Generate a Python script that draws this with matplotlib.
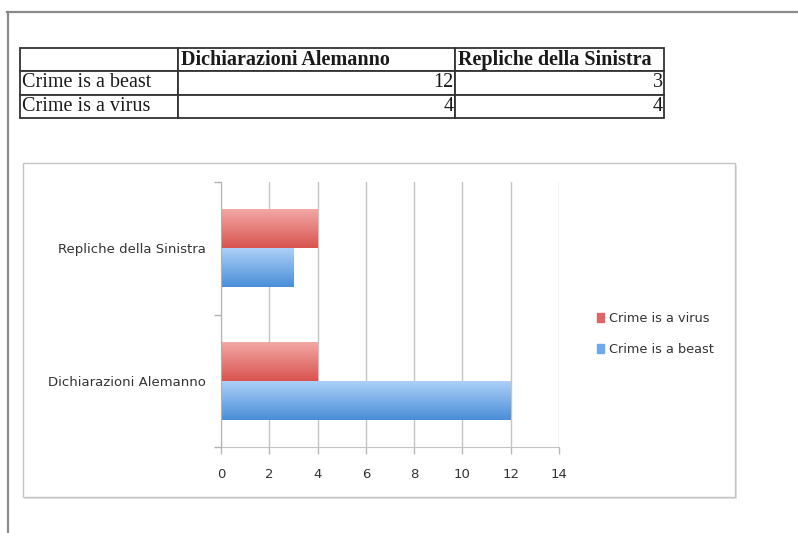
import matplotlib.pyplot as plt
import numpy as np
from matplotlib.patches import Rectangle
from matplotlib.lines import Line2D
from matplotlib.colors import LinearSegmentedColormap

# Data
categories = ['Dichiarazioni Alemanno', 'Repliche della Sinistra']
series = ['Crime is a beast', 'Crime is a virus']
beast = [12, 3]
virus = [4, 4]
x_ticks = [0, 2, 4, 6, 8, 10, 12, 14]

W, H = 798, 533
fig = plt.figure(figsize=(W / 100, H / 100), dpi=100)
fig.patch.set_facecolor('white')


def fx(px):
    return px / W


def fy(py):
    return 1 - py / H


# page border (screenshot frame)
fig.add_artist(Line2D([fx(7), 1], [fy(12), fy(12)], color='#8a8a8a', lw=1.6))
fig.add_artist(Line2D([fx(8), fx(8)], [fy(12), 0], color='#8a8a8a', lw=1.6))

# ---- data table ----
tab_ax = fig.add_axes([fx(20), fy(118), fx(664) - fx(20), fy(48) - fy(118)])
tab_ax.axis('off')
tab_ax.set_zorder(2)
cell_text = [['', categories[0], categories[1]],
             [series[0], str(beast[0]), str(beast[1])],
             [series[1], str(virus[0]), str(virus[1])]]
col_w = np.array([158, 277, 209]) / 644
tbl = tab_ax.table(cellText=cell_text, colWidths=col_w, bbox=[0, 0, 1, 1])
tbl.auto_set_font_size(False)
for (r, c), cell in tbl.get_celld().items():
    cell.set_edgecolor('#333333')
    cell.set_linewidth(1.3)
    txt = cell.get_text()
    txt.set_fontfamily('Liberation Serif')
    txt.set_fontsize(14.5)
    txt.set_color('#1a1a1a')
    cell.PAD = 0.012
    if r == 0:
        txt.set_fontweight('bold')
        cell.set_text_props(ha='left')
    elif c == 0:
        cell.set_text_props(ha='left')
    else:
        cell.set_text_props(ha='right')
        cell.PAD = 0.006

# ---- chart frame ----
fig.add_artist(Rectangle((fx(24), fy(499)), fx(737) - fx(24), fy(165) - fy(499),
                         transform=fig.transFigure, facecolor='#e2e2e2', edgecolor='none', zorder=0))
fig.add_artist(Rectangle((fx(23), fy(497)), fx(735) - fx(23), fy(163) - fy(497),
                         transform=fig.transFigure, facecolor='white', edgecolor='#c4c4c4',
                         lw=1.0, zorder=0.5))

# ---- bar chart ----
ax = fig.add_axes([fx(221), fy(447), fx(559) - fx(221), fy(182) - fy(447)])
ax.set_zorder(2)
ax.set_facecolor('none')
ypos = np.arange(len(categories))
h = 0.294
b_beast = ax.barh(ypos - h / 2, beast, height=h, color='#6fa8ec', label=series[0], zorder=3)
b_virus = ax.barh(ypos + h / 2, virus, height=h, color='#e06666', label=series[1], zorder=3)

# gradient fill on bars
red_cm = LinearSegmentedColormap.from_list('r', ['#d9534f', '#f2a8a4'])
blue_cm = LinearSegmentedColormap.from_list('b', ['#4a8ed8', '#acd0f7'])
grad = np.linspace(0, 1, 64).reshape(-1, 1)
for bars, cm in [(b_beast, blue_cm), (b_virus, red_cm)]:
    for p in bars:
        x0, y0, w, hh = p.get_x(), p.get_y(), p.get_width(), p.get_height()
        ax.imshow(grad, cmap=cm, aspect='auto', origin='lower',
                  extent=[x0, x0 + w, y0, y0 + hh], zorder=4)
        p.set_alpha(0)
ax.set_xlim(0, 14)
ax.set_ylim(-0.5, 1.5)

ax.set_xticks(x_ticks)
ax.set_xticklabels([str(t) for t in x_ticks], fontsize=9.5, color='#333333')
ax.xaxis.grid(True, color='#c4c4c4', lw=1.0, zorder=0)
ax.tick_params(axis='x', length=5, width=1, color='#b8b8b8', pad=10, direction='out')

ax.set_yticks([-0.5, 0.5, 1.5])
ax.set_yticklabels([])
ax.set_yticks(ypos, minor=True)
ax.set_yticklabels(categories, minor=True, fontsize=9.5, color='#333333')
ax.tick_params(axis='y', which='major', length=5, width=1, color='#b0b0b0')
ax.tick_params(axis='y', which='minor', length=0, pad=11)

for s in ['top', 'right']:
    ax.spines[s].set_visible(False)
ax.spines['left'].set_color('#b0b0b0')
ax.spines['bottom'].set_color('#c4c4c4')
ax.spines['left'].set_zorder(5)

handles = [Rectangle((0, 0), 1, 1, color='#e06666'), Rectangle((0, 0), 1, 1, color='#6fa8ec')]
fig.legend(handles, [series[1], series[0]], loc='center left',
           bbox_to_anchor=(fx(585), fy(334)), frameon=False, fontsize=9.3,
           handlelength=0.6, handleheight=0.6, handletextpad=0.35, labelspacing=1.4,
           labelcolor='#333333')

fig.savefig('out.png', dpi=100)
